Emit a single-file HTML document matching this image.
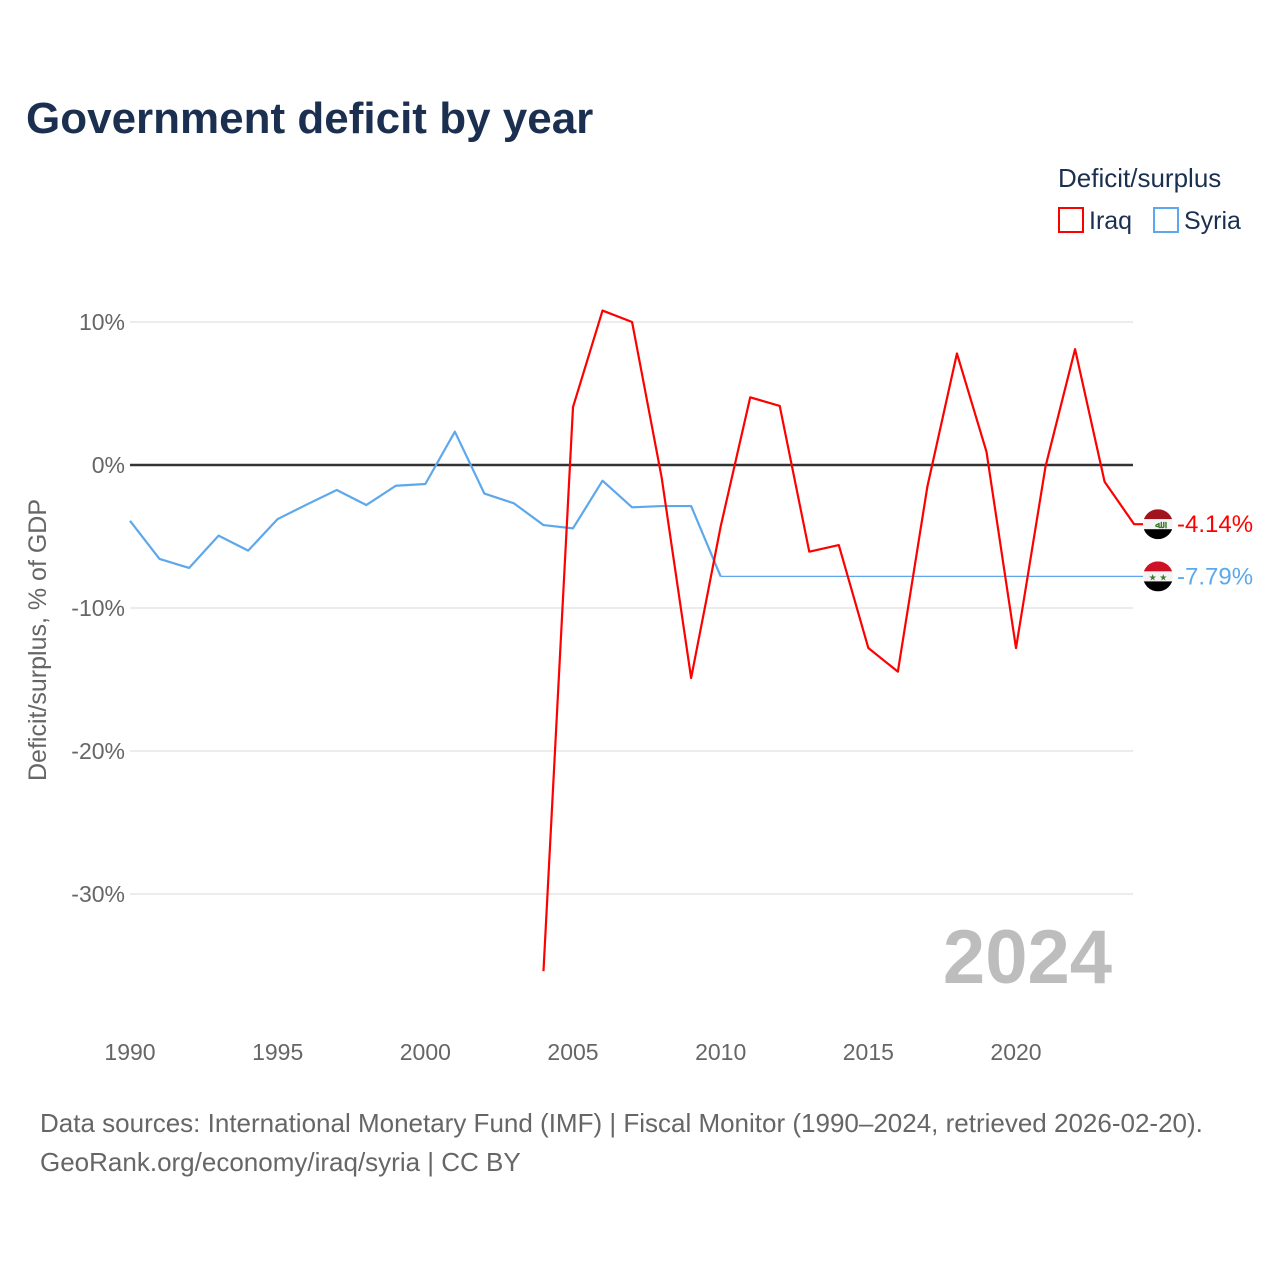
<!DOCTYPE html>
<html><head><meta charset="utf-8"><style>
body{margin:0;background:#fff;}
svg{display:block;font-family:"Liberation Sans","DejaVu Sans",sans-serif;}
</style></head><body>
<svg width="1280" height="1280" viewBox="0 0 1280 1280">
<text x="26" y="133" font-size="44" font-weight="bold" fill="#1b3050">Government deficit by year</text>
<g>
<text x="1058" y="187" font-size="26" fill="#1b3050">Deficit/surplus</text>
<rect x="1059" y="208" width="24" height="24" fill="none" stroke="#f00" stroke-width="2"/>
<text x="1089" y="229" font-size="25" fill="#1b3050">Iraq</text>
<rect x="1154" y="208" width="24" height="24" fill="none" stroke="#5da8ec" stroke-width="2"/>
<text x="1184" y="229" font-size="25" fill="#1b3050">Syria</text>
</g>
<text transform="translate(50,640) rotate(-90)" text-anchor="middle" font-size="25" fill="#666" x="0" y="-4">Deficit/surplus, % of GDP</text>
<g id="grid"></g>
<text x="1112" y="983" text-anchor="end" font-size="76" font-weight="bold" fill="#bdbdbd">2024</text>
<g id="marks"></g>
<g id="ends"></g>
<text x="40" y="1132" font-size="26" fill="#666">Data sources: International Monetary Fund (IMF) | Fiscal Monitor (1990–2024, retrieved 2026-02-20).</text>
<text x="40" y="1171" font-size="26" fill="#666">GeoRank.org/economy/iraq/syria | CC BY</text>
</svg>
<script>
const years = [1990,1991,1992,1993,1994,1995,1996,1997,1998,1999,2000,2001,2002,2003,2004,2005,2006,2007,2008,2009,2010,2011,2012,2013,2014,2015,2016,2017,2018,2019,2020,2021,2022,2023,2024];
const syria = [-3.9,-6.57,-7.2,-4.94,-5.99,-3.78,-2.75,-1.75,-2.8,-1.45,-1.33,2.33,-2.0,-2.68,-4.2,-4.43,-1.1,-2.96,-2.87,-2.87,-7.79,-7.79,-7.79,-7.79,-7.79,-7.79,-7.79,-7.79,-7.79,-7.79,-7.79,-7.79,-7.79,-7.79,-7.79];
const iraq = [null,null,null,null,null,null,null,null,null,null,null,null,null,null,-35.4,4.05,10.8,10.0,-0.85,-14.9,-4.3,4.73,4.13,-6.06,-5.6,-12.8,-14.45,-1.5,7.8,0.93,-12.8,-0.1,8.1,-1.17,-4.14];
const yTicks = [10,0,-10,-20,-30];
const yTickLabels = ["10%","0%","-10%","-20%","-30%"];
const xTicks = [1990,1995,2000,2005,2010,2015,2020];
const NS="http://www.w3.org/2000/svg";
const X0=130,X1=1133;
const xs = y => X0 + (y-1990)*(1016-130)/30;
const ys = v => 465 - v*14.3;
function mk(t,a,p){const e=document.createElementNS(NS,t);for(const k in a)e.setAttribute(k,a[k]);p.appendChild(e);return e;}
const grid=document.getElementById('grid'), marks=document.getElementById('marks'), ends=document.getElementById('ends');
yTicks.forEach((v,i)=>{
  if(v!==0){const l=mk('line',{x1:X0,x2:X1,y1:ys(v),y2:ys(v),stroke:'#e6e6e6','stroke-width':1.5},grid);
  
  }
  const t=mk('text',{x:125,y:ys(v)+8,'text-anchor':'end','font-size':23,fill:'#666'},grid);
  t.textContent=yTickLabels[i];
  
  
});
xTicks.forEach(y=>{
  const t=mk('text',{x:xs(y),y:1060,'text-anchor':'middle','font-size':23,fill:'#666'},grid);
  t.textContent=y;
  
  
});
const z=mk('line',{x1:X0,x2:X1,y1:ys(0),y2:ys(0),stroke:'#333','stroke-width':2.5},grid);


function pts(arr,from,to){const p=[];for(let i=from;i<=to;i++){if(arr[i]!==null)p.push(xs(years[i])+','+ys(arr[i]));}return p.join(' ');}
const last=years.length-1;
const s1=mk('polyline',{points:pts(syria,0,20),fill:'none',stroke:'#5da8ec','stroke-width':2.2,'stroke-linejoin':'round'},marks);


const s2=mk('polyline',{points:pts(syria,20,last)+' '+(X1+10)+','+ys(syria[last]),fill:'none',stroke:'#5da8ec','stroke-width':1.2},marks);


const ir=mk('polyline',{points:pts(iraq,0,last)+' '+(X1+10)+','+ys(iraq[last]),fill:'none',stroke:'#f00','stroke-width':2.2,'stroke-linejoin':'round'},marks);


function flag(cy,top,mid,name,label,color,val){
  const g=mk('g',{},ends);
  
  
  const cx=1158,r=15;
  mk('clipPath',{id:name+'c'},g).appendChild(document.createElementNS(NS,'circle'));
  const c=g.querySelector('clipPath circle');c.setAttribute('cx',cx);c.setAttribute('cy',cy);c.setAttribute('r',r);
  const gg=mk('g',{'clip-path':'url(#'+name+'c)'},g);
  mk('rect',{x:cx-r,y:cy-r,width:30,height:10,fill:top},gg);
  mk('rect',{x:cx-r,y:cy-5,width:30,height:10,fill:'#f4f4f4'},gg);
  mk('rect',{x:cx-r,y:cy+5,width:30,height:10,fill:'#000'},gg);
  const m=mk('text',{x:cx,y:cy+4,'text-anchor':'middle','font-size':mid==='star'?9:10,fill:'#3a7a2a','font-weight':'bold'},gg);
  m.textContent=mid==='star'?'★ ★':'ﷲ';
  const t=mk('text',{x:1177,y:cy+8,'font-size':24,fill:color},g);
  t.textContent=val.toFixed(2)+'%';
  
  
}
flag(ys(iraq[last]),'#a0141e','ar','iraq-end-marker','iraq-value-label','#f00',iraq[last]);
flag(ys(syria[last]),'#ce1126','star','syria-end-marker','syria-value-label','#5da8ec',syria[last]);
</script>
</body></html>
